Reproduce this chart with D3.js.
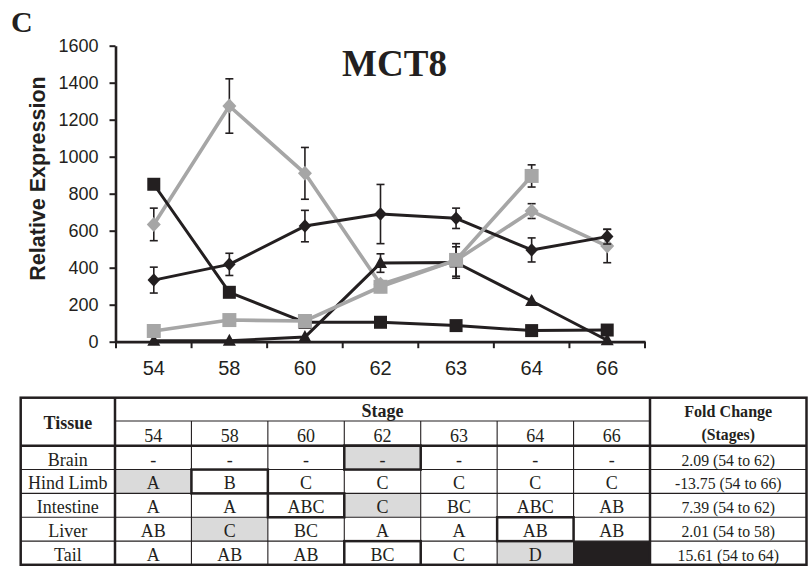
<!DOCTYPE html>
<html><head><meta charset="utf-8">
<script src="https://cdn.jsdelivr.net/npm/d3@7"></script>
<style>body{margin:0;background:#fff} svg{display:block}</style>
</head><body>
<svg id="c" width="809" height="566"></svg>
<script>
// ---- data ----
const stages = ["54","58","60","62","63","64","66"];
const yTicks = [0,200,400,600,800,1000,1200,1400,1600];
const brain       = [333, 418, 625, 690, 667, 496, 568];
const brainErr    = [70, 60, 85, 160, 55, 65, 40];
const hindLimb    = [851, 267, 105, 105, 87, 60, 63];
const hindLimbErr = [0, 0, 0, 0, 0, 0, 0];
const intestine   = [5, 5, 25, 425, 428, 220, 8];
const intestineErr= [0, 0, 0, 50, 85, 0, 0];
const liver       = [634, 1274, 910, 310, 440, 706, 517];
const liverErr    = [88, 147, 140, 0, 0, 40, 90];
const tail        = [58, 117, 112, 297, 442, 896, null];
const tailErr     = [0, 0, 0, 30, 88, 60, null];

const tissues = ["Brain","Hind Limb","Intestine","Liver","Tail"];
const letters = [
  ["-","-","-","-","-","-","-"],
  ["A","B","C","C","C","C","C"],
  ["A","A","ABC","C","BC","ABC","AB"],
  ["AB","C","BC","A","A","AB","AB"],
  ["A","AB","AB","BC","C","D",""]
];
const foldChange = ["2.09 (54 to 62)","-13.75 (54 to 66)","7.39 (54 to 62)","2.01 (54 to 58)","15.61 (54 to 64)"];
const shadedCell = [3,0,3,1,5];   // stage index of grey cell per tissue
const boxedCell  = [3,1,2,5,3];   // stage index of outlined cell per tissue
const blackCell  = [null,null,null,null,6];

// ---- style ----
const INK = "#231f20", GRAY = "#a6a6a6", SHADE = "#dadada";
const svg = d3.select("#c");
svg.append("rect").attr("width",809).attr("height",566).attr("fill","#fff");

const x = d3.scaleBand().domain(stages).range([116,645]);
const y = d3.scaleLinear().domain([0,1600]).range([341.7,45.7]);
const cx = s => x(s) + x.bandwidth()/2;

// panel letter and title
svg.append("text").attr("x",11).attr("y",31.5).text("C")
  .attr("font-family","Liberation Serif").attr("font-weight","bold").attr("font-size",30).attr("fill",INK);
svg.append("text").attr("x",394.5).attr("y",76).attr("text-anchor","middle").text("MCT8")
  .attr("font-family","Liberation Serif").attr("font-weight","bold").attr("font-size",37).attr("fill",INK);

// y axis
const ya = svg.append("g").attr("transform","translate(115.5,0)")
  .call(d3.axisLeft(y).tickValues(yTicks).tickFormat(d3.format("d")).tickSize(6).tickPadding(11).tickSizeOuter(0));
ya.select(".domain").attr("stroke",INK).attr("stroke-width",2.6);
ya.selectAll(".tick line").attr("stroke",INK).attr("stroke-width",2);
ya.selectAll(".tick text").attr("font-family","Liberation Sans").attr("font-size",18).attr("fill",INK);

svg.append("text").attr("transform","translate(45,178.5) rotate(-90)").attr("text-anchor","middle")
  .text("Relative Expression").attr("font-family","Liberation Sans").attr("font-weight","bold")
  .attr("font-size",21.5).attr("fill",INK);

// x axis
const xa = svg.append("g").attr("transform",`translate(0,${y(0)})`)
  .call(d3.axisBottom(x).tickSize(0).tickPadding(19).tickSizeOuter(0));
xa.select(".domain").attr("stroke",INK).attr("stroke-width",2.7);
xa.selectAll(".tick text").attr("font-family","Liberation Sans").attr("font-size",20).attr("fill",INK);
const bounds = stages.map(s => x(s)).concat([x(stages[stages.length-1]) + x.bandwidth()]);
svg.append("g").selectAll("line").data(bounds).join("line")
  .attr("x1",d=>d).attr("x2",d=>d).attr("y1",y(0)).attr("y2",y(0)+6.5)
  .attr("stroke",INK).attr("stroke-width",2);

// series
function shapePath(shape, w, h) {
  if (shape === "diamond") return `M0,${-h/2}L${w/2},0L0,${h/2}L${-w/2},0Z`;
  if (shape === "square") return `M${-w/2},${-h/2}h${w}v${h}h${-w}Z`;
  return `M0,${-h*0.58}L${w/2},${h*0.42}L${-w/2},${h*0.42}Z`;
}
const series = [
  {vals: liver, err: liverErr, color: GRAY, shape: "diamond", w: 14, h: 15, lw: 3.6},
  {vals: brain, err: brainErr, color: INK, shape: "diamond", w: 12.5, h: 13.5, lw: 3},
  {vals: hindLimb, err: hindLimbErr, color: INK, shape: "square", w: 13, h: 13, lw: 3},
  {vals: intestine, err: intestineErr, color: INK, shape: "triangle", w: 13, h: 12, lw: 3},
  {vals: tail, err: tailErr, color: GRAY, shape: "square", w: 14, h: 14, lw: 3.6}
];
const line = d3.line().defined(d => d.v !== null).x(d => cx(d.s)).y(d => y(d.v));
series.forEach(sr => {
  const pts = stages.map((s,i) => ({s, v: sr.vals[i], e: sr.err[i]}));
  const g = svg.append("g");
  g.append("path").datum(pts).attr("d", line).attr("fill","none")
    .attr("stroke", sr.color).attr("stroke-width", sr.lw).attr("stroke-linejoin","round");
  const eb = pts.filter(d => d.v !== null && d.e);
  const eg = g.append("g").attr("stroke",INK).attr("stroke-width",1.6);
  eg.selectAll("line.v").data(eb).join("line").attr("class","v")
    .attr("x1",d=>cx(d.s)).attr("x2",d=>cx(d.s)).attr("y1",d=>y(d.v+d.e)).attr("y2",d=>y(d.v-d.e));
  eg.selectAll("line.t").data(eb).join("line").attr("class","t")
    .attr("x1",d=>cx(d.s)-4).attr("x2",d=>cx(d.s)+4).attr("y1",d=>y(d.v+d.e)).attr("y2",d=>y(d.v+d.e));
  eg.selectAll("line.b").data(eb).join("line").attr("class","b")
    .attr("x1",d=>cx(d.s)-4).attr("x2",d=>cx(d.s)+4).attr("y1",d=>y(d.v-d.e)).attr("y2",d=>y(d.v-d.e));
  g.selectAll("path.m").data(pts.filter(d => d.v !== null)).join("path").attr("class","m")
    .attr("d", shapePath(sr.shape, sr.w, sr.h))
    .attr("transform", d => `translate(${cx(d.s)},${y(d.v)})`)
    .attr("fill", sr.color);
});

// ---- table ----
const TL = 20.7, TR = 806.5, TT = 397.7, TM = 421, TH = 445.7, TB = 564.8, C1 = 115, C2 = 650;
const colX = d3.scaleBand().domain(stages).range([C1, C2]);
const rowY = d3.scaleBand().domain(tissues).range([TH, 565]);
const tb = svg.append("g");
const serif = "Liberation Serif";

// fills
tissues.forEach((t,i) => {
  tb.append("rect").attr("x",colX(stages[shadedCell[i]])).attr("y",rowY(t))
    .attr("width",colX.bandwidth()).attr("height",rowY.bandwidth()).attr("fill",SHADE);
  if (blackCell[i] !== null)
    tb.append("rect").attr("x",colX(stages[blackCell[i]])).attr("y",rowY(t))
      .attr("width",colX.bandwidth()).attr("height",rowY.bandwidth()).attr("fill",INK);
});
// thin lines
const thin = tb.append("g").attr("stroke",INK).attr("stroke-width",1.1);
thin.append("line").attr("x1",C1).attr("x2",C2).attr("y1",TM).attr("y2",TM);
thin.selectAll("line.cv").data(stages.slice(1)).join("line").attr("class","cv")
  .attr("x1",s=>colX(s)).attr("x2",s=>colX(s)).attr("y1",TM).attr("y2",565);
thin.selectAll("line.rh").data(tissues.slice(1)).join("line").attr("class","rh")
  .attr("x1",TL).attr("x2",TR).attr("y1",t=>rowY(t)).attr("y2",t=>rowY(t));
// thick lines
const thick = tb.append("g").attr("stroke",INK).attr("stroke-width",2.5).attr("fill","none");
thick.append("rect").attr("x",TL).attr("y",TT).attr("width",TR-TL).attr("height",TB-TT);
thick.append("line").attr("x1",C1).attr("x2",C1).attr("y1",TT).attr("y2",TB);
thick.append("line").attr("x1",C2).attr("x2",C2).attr("y1",TT).attr("y2",TB);
thick.append("line").attr("x1",TL).attr("x2",TR).attr("y1",TH).attr("y2",TH);
tissues.forEach((t,i) => {
  thick.append("rect").attr("x",colX(stages[boxedCell[i]])).attr("y",rowY(t))
    .attr("width",colX.bandwidth()).attr("height",rowY.bandwidth());
});
// texts
function txt(xp, yp, s, bold, fs, sx) {
  tb.append("text").attr("transform",`translate(${xp},${yp}) scale(${sx || 1},1)`)
    .attr("text-anchor","middle").text(s)
    .attr("font-family",serif).attr("font-size",fs).attr("fill",INK)
    .attr("font-weight", bold ? "bold" : "normal");
}
const tissueCX = (TL + C1)/2, foldCX = (C2 + TR)/2;
txt(tissueCX, 429, "Tissue", true, 18);
txt((C1 + C2)/2, 417, "Stage", true, 18);
txt(foldCX, 417, "Fold Change", true, 17.5, 0.92);
txt(foldCX, 440, "(Stages)", true, 17.5, 0.9);
stages.forEach(s => txt(colX(s) + colX.bandwidth()/2, 442, s, false, 18));
tissues.forEach((t,i) => {
  const by = rowY(t) + rowY.bandwidth() - 4;
  txt(tissueCX, by, t, false, 18);
  stages.forEach((s,j) => { if (letters[i][j]) txt(colX(s) + colX.bandwidth()/2, by, letters[i][j], false, 18); });
  txt(foldCX, by, foldChange[i], false, 17.5, 0.9);
});
</script>
</body></html>
